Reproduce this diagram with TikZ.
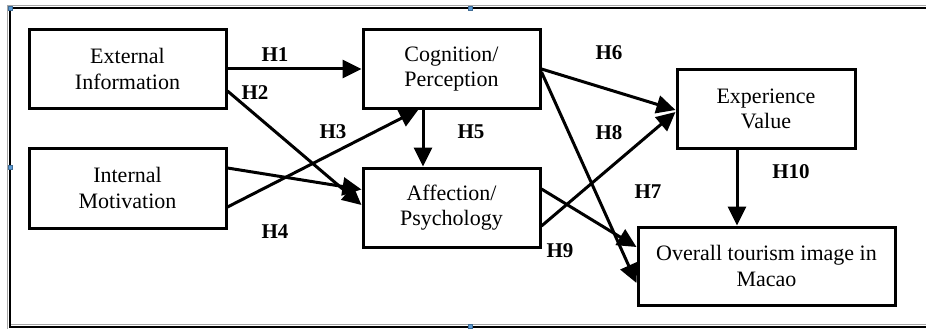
\documentclass[tikz,border=0pt]{standalone}
\usepackage{fontspec}
\setmainfont{Liberation Serif}
\usepackage{tikz}
\usetikzlibrary{arrows.meta,positioning,calc}

\definecolor{handleblue}{RGB}{91,155,213}

\begin{document}
\begin{tikzpicture}[x=1pt, y=-1pt,
    box/.style={rectangle, draw=black, line width=3pt, fill=white, align=center, inner sep=0pt, font=\fontsize{22}{25.5}\selectfont},
    arrow/.style={draw, line width=3pt, -{Triangle[length=19pt,width=18pt]}, color=black},
    hlabel/.style={font=\bfseries\fontsize{21}{24}\selectfont, inner sep=0pt},
    handle/.style={fill=handleblue, draw=handleblue!70!black, line width=0.4pt, minimum size=4.5pt, inner sep=0pt}
]
    \useasboundingbox (0,0) rectangle (926,329);

    % Frame
    \draw[gray!70, line width=0.9pt] (7,5) -- (926,5);
    \draw[gray!70, line width=0.9pt] (7,5) -- (7,329);
    \draw[gray!70, line width=0.9pt] (10,324) -- (926,324);
    \draw[black, line width=2.8pt] (926,8) -- (10,8) -- (10,327) -- (926,327);

    % Nodes
    \node[box, minimum width=197pt, minimum height=78pt] (ext) at (127.5,69) {External\\Information};
    \node[box, minimum width=197pt, minimum height=80pt] (intm) at (127.5,188) {Internal\\Motivation};
    \node[box, minimum width=177pt, minimum height=78pt] (cog) at (451.5,69) {Cognition/\\Perception};
    \node[box, minimum width=177pt, minimum height=79pt] (aff) at (451.5,207.5) {Affection/\\Psychology};
    \node[box, minimum width=178pt, minimum height=78pt] (expv) at (766,109) {Experience\\Value};
    \node[box, minimum width=257pt, minimum height=78pt] (overall) at (766.5,266) {Overall tourism image in\\Macao};

    % Arrows
    \path [arrow] (ext.east) -- (cog.west);
    \path [arrow] ([yshift=-22pt]ext.east) -- ([yshift=2.5pt]aff.west);
    \path [arrow] ([yshift=-19pt]intm.east) -- ([xshift=-33pt]cog.south);
    \path [arrow] ([yshift=20pt]intm.east) -- ([yshift=18pt]aff.west);
    \path [arrow] ([xshift=-28.5pt]cog.south) -- ([xshift=-28.5pt]aff.north);
    \path [arrow] (cog.east) -- ([yshift=-1pt]expv.west);
    \path [arrow] ([yshift=-3pt]cog.east) -- ([yshift=-17pt]overall.west);
    \path [arrow] ([yshift=-18.5pt]aff.east) -- ([yshift=-3pt]expv.west);
    \path [arrow] ([yshift=18.5pt]aff.east) -- ([yshift=19pt]overall.west);
    \path [arrow] ([xshift=-29pt]expv.south) -- ([xshift=-29.5pt]overall.north);

    % Labels
    \node[hlabel] (h1) at (275,55) {H1};
    \node[hlabel] (h2) at (255,93) {H2};
    \node[hlabel] (h3) at (333,132) {H3};
    \node[hlabel] (h4) at (275,232) {H4};
    \node[hlabel] (h5) at (471,132) {H5};
    \node[hlabel] (h6) at (609,53) {H6};
    \node[hlabel] (h7) at (648,192) {H7};
    \node[hlabel] (h8) at (609,133) {H8};
    \node[hlabel] (h9) at (560,251) {H9};
    \node[hlabel] (h10) at (791,172) {H10};

    % Selection handles
    \node[handle] (hd1) at (10,8) {};
    \node[handle] (hd2) at (10,167) {};
    \node[handle] (hd3) at (470,8) {};
    \node[handle] (hd4) at (470,326) {};
\end{tikzpicture}
\end{document}
